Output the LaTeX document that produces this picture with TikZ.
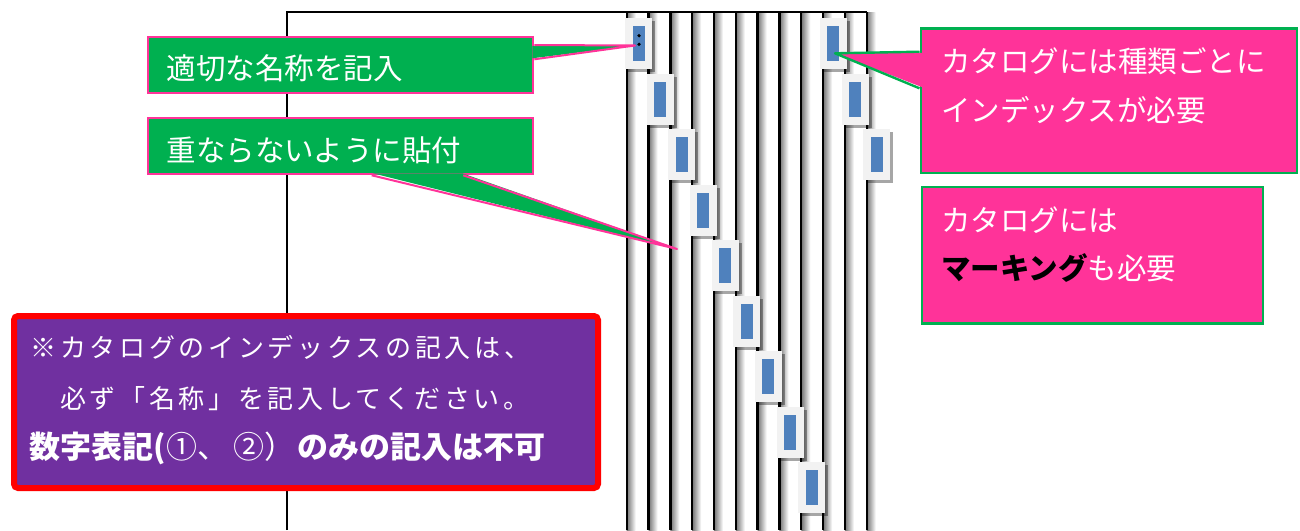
\documentclass[tikz,border=0pt]{standalone}
\usepackage{fontspec}
\setmainfont{Noto Sans CJK JP}
\newfontfamily\widejp{Noto Sans CJK JP}[LetterSpace=14]
\usetikzlibrary{shadows,calc}
\definecolor{notegreen}{HTML}{00B050}
\definecolor{notepink}{HTML}{FF3399}
\definecolor{notepurple}{HTML}{7030A0}
\definecolor{tabblue}{HTML}{4F81BD}
\definecolor{tabgray}{HTML}{F2F2F2}

\begin{document}
\begin{tikzpicture}[x=1pt, y=-1pt,
    spine/.style={line width=2.4pt, black},
    tabcard/.style={rectangle, fill=tabgray, minimum width=27pt, minimum height=51pt,
        inner sep=0pt,
        drop shadow={shadow xshift=3pt, shadow yshift=-3pt, opacity=.35, fill=black},
        path picture={\fill[tabblue]
            ([xshift=-6pt,yshift=-17.5pt]path picture bounding box.center) rectangle
            ([xshift=6pt,yshift=17.5pt]path picture bounding box.center);}},
    greenbox/.style={rectangle, fill=notegreen, draw=notepink, line width=2pt,
        anchor=north west, inner sep=0pt},
    pinkbox/.style={rectangle, fill=notepink, draw=notegreen, line width=2.4pt,
        anchor=north west, inner sep=0pt},
    notetext/.style={anchor=base west, inner sep=0pt, white,
        font=\fontsize{29.5}{29.5}\selectfont},
    warntext/.style={anchor=base west, inner sep=0pt, white,
        font=\widejp\fontsize{26}{26}\selectfont}]

  \useasboundingbox (0,0) rectangle (1300,530);
  \fill[white] (0,0) rectangle (1300,530);

  \foreach \i [evaluate=\i as \x using 626.7+21.82*\i] in {0,...,11} {
    \shade[left color=black!55, right color=white] (\x,12.3) rectangle (\x+9,530);
    \draw[spine] (\x,12.3) -- (\x,530);
  }
  \draw[line width=2pt] (287,530) -- (287,12.3) -- (866.7,12.3);

  \foreach \i in {0,...,8}
    \node[tabcard] (tab\i) at (638.5+21.65*\i, 43.7+55.5*\i) {};
  \foreach \i in {0,1,2}
    \node[tabcard] (side\i) at (833.3+21.7*\i, 43.7+55.5*\i) {};

  \node[greenbox, minimum width=385pt, minimum height=56.6pt] (name) at (147.3,35.7) {};
  \coordinate (tipname) at (635,45.5);
  \fill[notegreen] ($(name.north east)+(-2,10.2)$) -- (tipname)
    -- ($(name.north east)+(-2,22.6)$) -- cycle;
  \draw[notepink, line width=2pt, line join=round] ($(name.north east)+(0,9.3)$)
    -- (tipname) -- ($(name.north east)+(0,23.6)$);

  \node[greenbox, minimum width=385pt, minimum height=56.6pt] (paste) at (147.3,116.7) {};
  \coordinate (tippaste) at (677,249);
  \fill[notegreen] ($(paste.south west)+(225.4,-2)$) -- (tippaste)
    -- ($(paste.south west)+(315,-2)$) -- cycle;
  \draw[notepink, line width=2pt, line join=round] ($(paste.south west)+(224.4,0)$)
    -- (tippaste) -- ($(paste.south west)+(316,0)$);

  \node[pinkbox, minimum width=376.5pt, minimum height=144.4pt] (index) at (919.5,27.3) {};
  \coordinate (tipindex) at (835,53.3);
  \fill[notepink] ($(index.north west)+(2.5,25.6)$) -- (tipindex)
    -- ($(index.north west)+(2.5,59.8)$) -- cycle;
  \draw[notegreen, line width=2.4pt, line join=round] ($(index.north west)+(0,24.4)$)
    -- (tipindex) -- ($(index.north west)+(0,61)$);

  \node[pinkbox, minimum width=340.7pt, minimum height=136.6pt] (mark) at (921,185.7) {};

  \node[rectangle, fill=notepurple, draw=red, line width=6pt, rounded corners=4pt,
        minimum width=584pt, minimum height=172pt, anchor=north west] (warn) at (11,313) {};

  \fill (639,35.7) circle (1.8);
  \fill (639,44.3) circle (1.8);

  \node[notetext] (nametext) at (166.7,79.5) {適切な名称を記入};
  \node[notetext] (pastetext) at (166.7,161.2) {重ならないように貼付};
  \node[notetext] (indextop) at (941,72.9) {カタログには種類ごとに};
  \node[notetext] (indexbot) at (941,121.2) {インデックスが必要};
  \node[notetext] (marktop) at (941,231.2) {カタログには};
  \node[notetext] (markbot) at (941,279.5) {{\bfseries\color{black}マーキング}も必要};

  \node[warntext] (warntop) at (30.4,357.9) {※カタログのインデックスの記入は、};
  \node[warntext] (warnmid) at (30.4,408.9) {　必ず「名称」を記入してください。};
  \node[anchor=base west, inner sep=0pt, white] (warnbot) at (29.5,458.5)
    {\fontsize{31}{31}\selectfont{\bfseries 数字表記(}{\fontsize{31}{31}\selectfont
     ①、\hspace{5pt}②）}\hspace{2pt}{\bfseries のみの記入は不可}};
\end{tikzpicture}
\end{document}
